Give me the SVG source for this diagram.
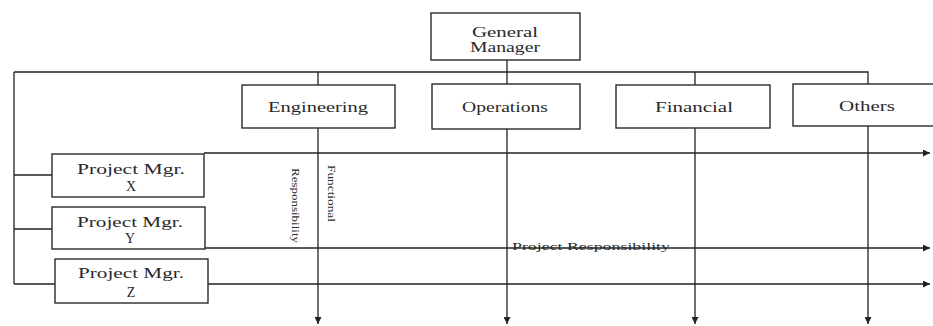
<svg xmlns="http://www.w3.org/2000/svg" width="933" height="326" viewBox="0 0 933 326">
  <style>
    .box { fill: #ffffff; stroke: #2a2a2a; stroke-width: 1.4; }
    .line { fill: none; stroke: #222222; stroke-width: 1.3; }
    .lbl { font-family: "Liberation Serif", "Times New Roman", serif; font-size: 14px; fill: #2a2a2a; text-anchor: middle; }
    .small { font-family: "Liberation Serif", "Times New Roman", serif; font-size: 11px; fill: #2a2a2a; }
  </style>
  <defs>
    <marker id="arrow" viewBox="0 0 10 10" refX="10" refY="5" markerWidth="8" markerHeight="7" markerUnits="userSpaceOnUse" orient="auto">
      <path d="M0,0 L10,5 L0,10 z" fill="#222222"/>
    </marker>
  </defs>
  <rect width="933" height="326" fill="#ffffff"/>

  <!-- connectors -->
  <g id="connectors">
    <!-- top distribution bus -->
    <path class="line" d="M14,72 H868 V84"/>
    <path class="line" d="M14,72 V284"/>
    <path class="line" d="M14,175 H52"/>
    <path class="line" d="M14,229 H52"/>
    <path class="line" d="M14,284 H55"/>
    <!-- functional responsibility (vertical) -->
    <path class="line" d="M318,72 V324" marker-end="url(#arrow)"/>
    <path class="line" d="M507,60 V324" marker-end="url(#arrow)"/>
    <path class="line" d="M695,72 V324" marker-end="url(#arrow)"/>
    <path class="line" d="M868,126 V324" marker-end="url(#arrow)"/>
    <!-- project responsibility (horizontal) -->
    <path class="line" d="M204,153 H930" marker-end="url(#arrow)"/>
    <path class="line" d="M205,248 H930" marker-end="url(#arrow)"/>
    <path class="line" d="M208,284 H930" marker-end="url(#arrow)"/>
  </g>

  <g id="general-manager">
    <rect class="box" x="431" y="13" width="149" height="47"/>
    <text class="lbl" x="505" y="37" textLength="66" lengthAdjust="spacingAndGlyphs">General</text>
    <text class="lbl" x="505" y="52" textLength="70" lengthAdjust="spacingAndGlyphs">Manager</text>
  </g>

  <g id="engineering">
    <rect class="box" x="242" y="85" width="153" height="43"/>
    <text class="lbl" x="318" y="112" textLength="100" lengthAdjust="spacingAndGlyphs">Engineering</text>
  </g>

  <g id="operations">
    <rect class="box" x="432" y="84" width="148" height="45"/>
    <text class="lbl" x="505" y="112" textLength="86" lengthAdjust="spacingAndGlyphs">Operations</text>
  </g>

  <g id="financial">
    <rect class="box" x="616" y="85" width="154" height="43"/>
    <text class="lbl" x="694" y="112" textLength="78" lengthAdjust="spacingAndGlyphs">Financial</text>
  </g>

  <g id="others">
    <rect class="box" x="793" y="84" width="150" height="42"/>
    <text class="lbl" x="867" y="111" textLength="56" lengthAdjust="spacingAndGlyphs">Others</text>
  </g>

  <g id="project-mgr-x">
    <rect class="box" x="52" y="154" width="152" height="43"/>
    <text class="lbl" x="131" y="174" textLength="108" lengthAdjust="spacingAndGlyphs">Project Mgr.</text>
    <text class="lbl" x="131" y="191">X</text>
  </g>

  <g id="project-mgr-y">
    <rect class="box" x="52" y="207" width="153" height="42"/>
    <text class="lbl" x="130" y="227" textLength="106" lengthAdjust="spacingAndGlyphs">Project Mgr.</text>
    <text class="lbl" x="130" y="243">Y</text>
  </g>

  <g id="project-mgr-z">
    <rect class="box" x="55" y="259" width="153" height="44"/>
    <text class="lbl" x="131" y="278" textLength="106" lengthAdjust="spacingAndGlyphs">Project Mgr.</text>
    <text class="lbl" x="131" y="297">Z</text>
  </g>

  <!-- axis labels -->
  <g id="labels">
    <text class="small" transform="translate(328,165) rotate(90)" textLength="57" lengthAdjust="spacingAndGlyphs">Functional</text>
    <text class="small" transform="translate(292,168) rotate(90)" textLength="75" lengthAdjust="spacingAndGlyphs">Responsibility</text>
    <text class="small" x="512" y="250" textLength="158" lengthAdjust="spacingAndGlyphs">Project Responsibility</text>
  </g>
</svg>
